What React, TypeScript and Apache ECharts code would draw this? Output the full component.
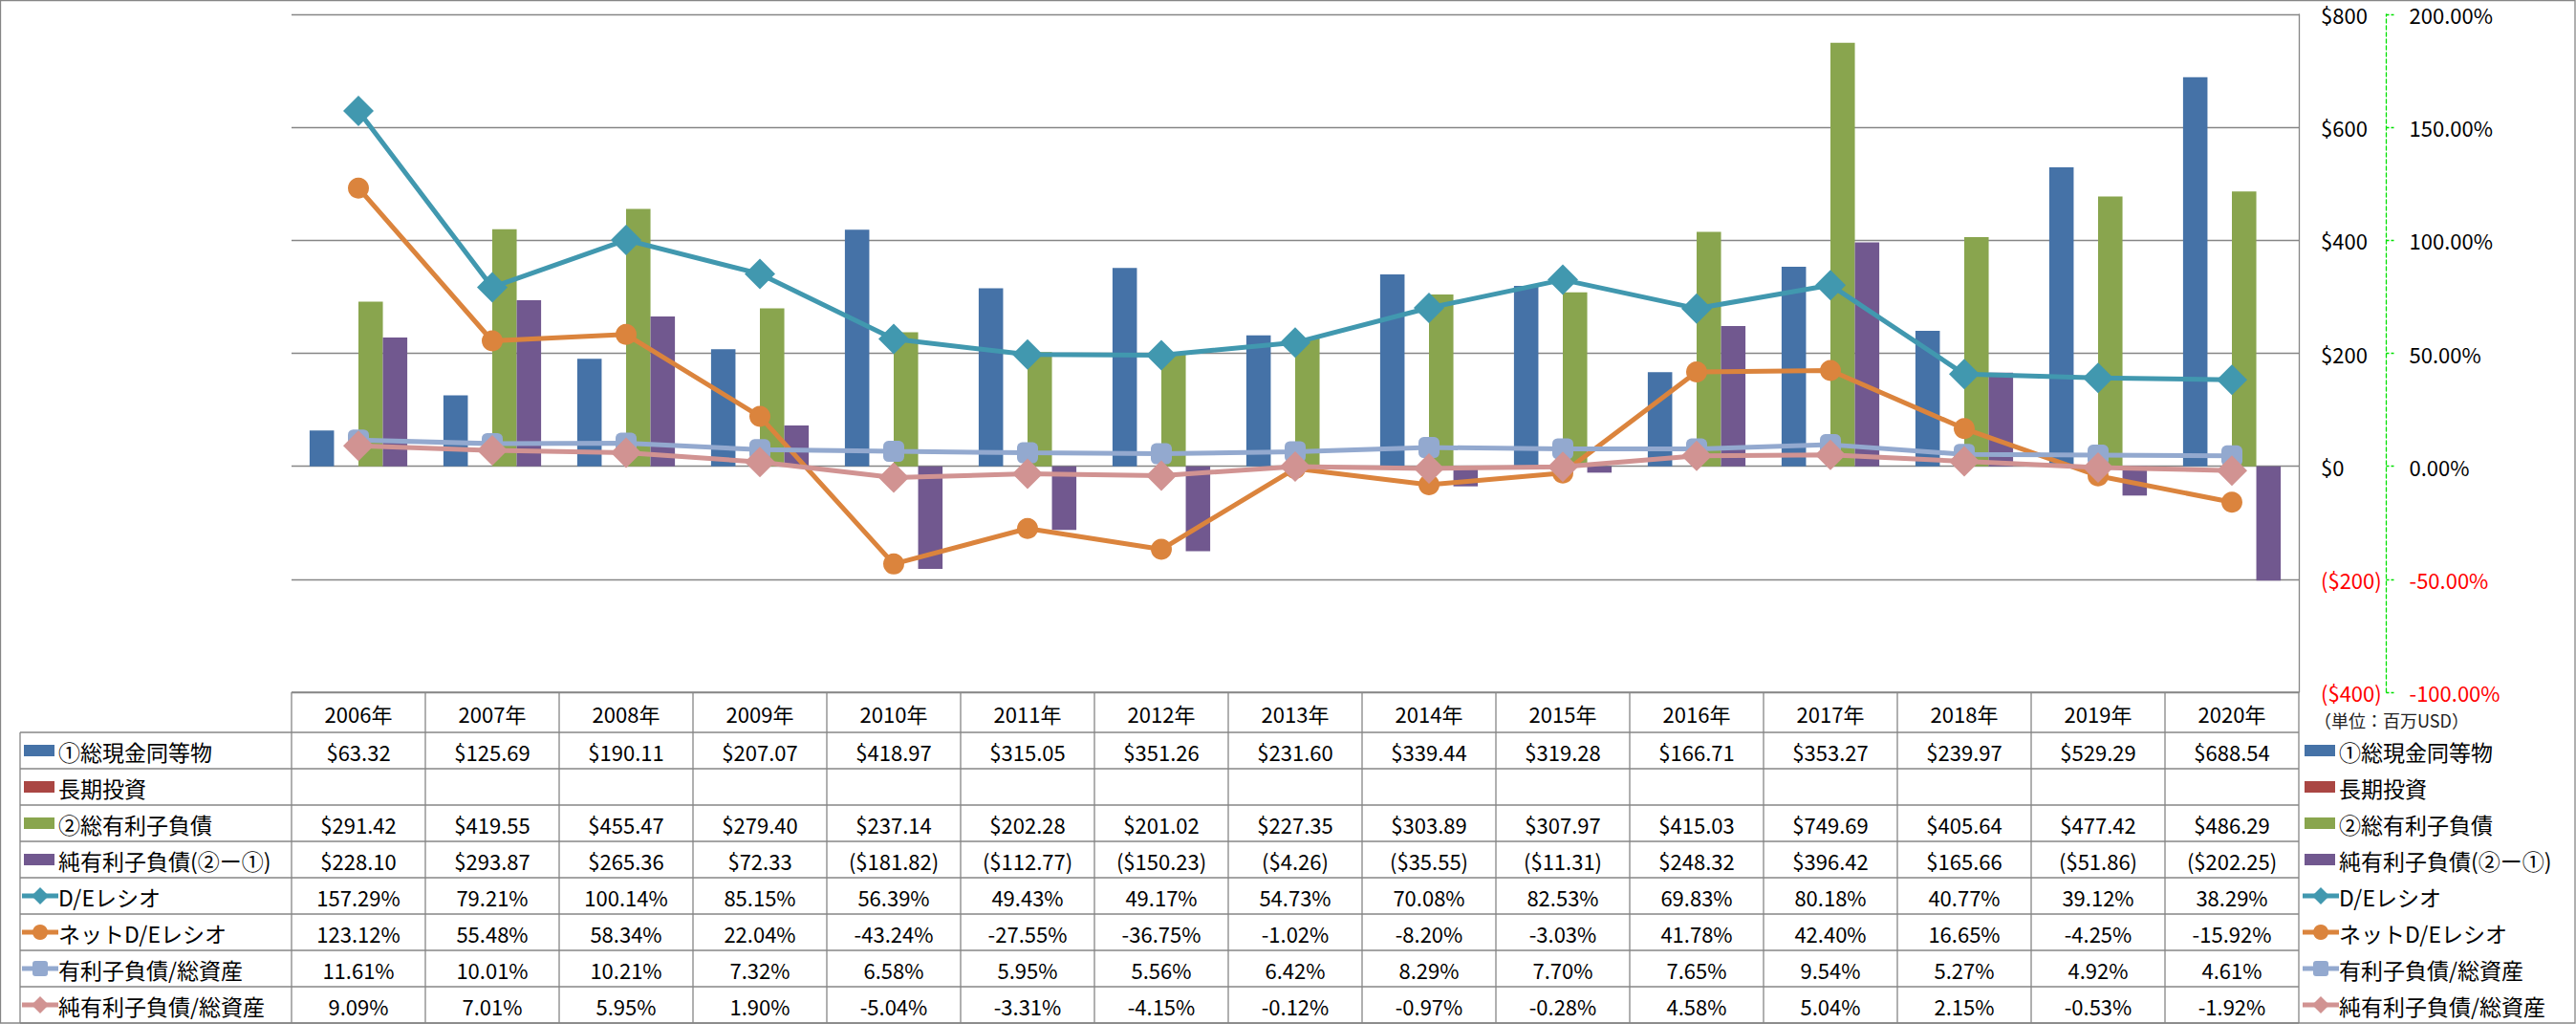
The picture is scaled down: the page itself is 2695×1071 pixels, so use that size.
import React, { useEffect, useRef } from "react";
import * as echarts from "echarts";

// ---------- data ----------
const years = ["2006年", "2007年", "2008年", "2009年", "2010年", "2011年", "2012年", "2013年", "2014年", "2015年", "2016年", "2017年", "2018年", "2019年", "2020年"];
const cash = [63.32, 125.69, 190.11, 207.07, 418.97, 315.05, 351.26, 231.6, 339.44, 319.28, 166.71, 353.27, 239.97, 529.29, 688.54];
const longInv: (number | null)[] = [null, null, null, null, null, null, null, null, null, null, null, null, null, null, null];
const debt = [291.42, 419.55, 455.47, 279.4, 237.14, 202.28, 201.02, 227.35, 303.89, 307.97, 415.03, 749.69, 405.64, 477.42, 486.29];
const netDebt = [228.1, 293.87, 265.36, 72.33, -181.82, -112.77, -150.23, -4.26, -35.55, -11.31, 248.32, 396.42, 165.66, -51.86, -202.25];
const deRatio = [157.29, 79.21, 100.14, 85.15, 56.39, 49.43, 49.17, 54.73, 70.08, 82.53, 69.83, 80.18, 40.77, 39.12, 38.29];
const netDeRatio = [123.12, 55.48, 58.34, 22.04, -43.24, -27.55, -36.75, -1.02, -8.2, -3.03, 41.78, 42.4, 16.65, -4.25, -15.92];
const debtToAssets = [11.61, 10.01, 10.21, 7.32, 6.58, 5.95, 5.56, 6.42, 8.29, 7.7, 7.65, 9.54, 5.27, 4.92, 4.61];
const netDebtToAssets = [9.09, 7.01, 5.95, 1.9, -5.04, -3.31, -4.15, -0.12, -0.97, -0.28, 4.58, 5.04, 2.15, -0.53, -1.92];

const seriesNames = ["①総現金同等物", "長期投資", "②総有利子負債", "純有利子負債(②ー①)", "D/Eレシオ", "ネットD/Eレシオ", "有利子負債/総資産", "純有利子負債/総資産"];
const unitLabel = "（単位：百万USD）";

// money axis: -400..800 step 200 ; percent axis: -100..200 step 50
const moneyAxis = { min: -400, max: 800, interval: 200 };
const pctAxis = { min: -100, max: 200, interval: 50 };

// ---------- styles ----------
const FONT = '"Noto Sans CJK JP", "Noto Sans", sans-serif';
const GRAY = "#868686";
const barColors = ["#4572A7", "#AA4643", "#89A54E", "#71588F"];
const lineColors = ["#4198AF", "#DB843D", "#93A9CF", "#D19392"];
const lineSymbols = ["diamond", "circle", "roundRect", "diamond"];
const lineSymbolSizes = [32, 22, 22, 32];

const W = 2695;
const H = 1071;
const GRID_L = 305;
const GRID_T = 15;
const GRID_W = 2100;
const GRID_H = 709;
const TABLE_X0 = 21;
const HEADER_TOP = GRID_T + GRID_H;
const ROW_TOP = 766;
const ROW_H = 38;

const fmtMoney = (v: number | null) =>
  v == null ? "" : v < 0 ? `($${(-v).toFixed(2)})` : `$${v.toFixed(2)}`;
const fmtPct = (v: number | null) => (v == null ? "" : `${v.toFixed(2)}%`);

function buildGraphics() {
  const g: any[] = [];
  const n = years.length;
  const colW = GRID_W / n;
  const colX = (k: number) => GRID_L + k * colW;
  const rowsData = [
    cash.map(fmtMoney),
    longInv.map(fmtMoney),
    debt.map(fmtMoney),
    netDebt.map(fmtMoney),
    deRatio.map(fmtPct),
    netDeRatio.map(fmtPct),
    debtToAssets.map(fmtPct),
    netDebtToAssets.map(fmtPct),
  ];
  const nRows = rowsData.length;
  const tableBottom = ROW_TOP + nRows * ROW_H;
  const lineStyle = { stroke: GRAY, lineWidth: 1.3 };

  // outer border
  g.push({ type: "rect", shape: { x: 0.5, y: 0.5, width: W - 1.5, height: H - 1.5 }, style: { fill: null, stroke: GRAY, lineWidth: 1.3 }, silent: true });

  // header top
  g.push({ type: "line", shape: { x1: colX(0), y1: HEADER_TOP, x2: colX(n), y2: HEADER_TOP }, style: lineStyle });
  // horizontal row lines
  for (let i = 0; i <= nRows; i++) {
    const y = ROW_TOP + i * ROW_H;
    g.push({ type: "line", shape: { x1: TABLE_X0, y1: y, x2: colX(n), y2: y }, style: lineStyle });
  }
  // vertical lines
  g.push({ type: "line", shape: { x1: TABLE_X0, y1: ROW_TOP, x2: TABLE_X0, y2: tableBottom }, style: lineStyle });
  for (let k = 0; k <= n; k++) {
    g.push({ type: "line", shape: { x1: colX(k), y1: HEADER_TOP, x2: colX(k), y2: tableBottom }, style: lineStyle });
  }
  // header texts
  years.forEach((yr, k) => {
    g.push({ type: "text", x: colX(k) + colW / 2, y: (HEADER_TOP + ROW_TOP) / 2 + 1, style: { text: yr, fontSize: 22, fontFamily: FONT, fill: "#000", align: "center", verticalAlign: "middle" } });
  });
  // cell texts
  rowsData.forEach((row, i) => {
    const cy = ROW_TOP + i * ROW_H + ROW_H / 2 + 1;
    row.forEach((txt, k) => {
      if (!txt) return;
      g.push({ type: "text", x: colX(k) + colW / 2, y: cy, style: { text: txt, fontSize: 22, fontFamily: FONT, fill: "#000", align: "center", verticalAlign: "middle" } });
    });
  });

  // legend keys + labels (left column and right side)
  const addKey = (i: number, kx: number, tx: number) => {
    const cy = ROW_TOP + i * ROW_H + ROW_H / 2;
    if (i < 4) {
      g.push({ type: "rect", shape: { x: kx, y: cy - 6, width: 32, height: 12 }, style: { fill: barColors[i] } });
    } else {
      const j = i - 4;
      const c = lineColors[j];
      const mx = kx + 17;
      g.push({ type: "line", shape: { x1: kx - 2, y1: cy, x2: kx + 36, y2: cy }, style: { stroke: c, lineWidth: 5 } });
      if (lineSymbols[j] === "diamond") {
        const s = 9;
        g.push({ type: "polygon", shape: { points: [[mx, cy - s], [mx + s, cy], [mx, cy + s], [mx - s, cy]] }, style: { fill: c } });
      } else if (lineSymbols[j] === "circle") {
        g.push({ type: "circle", shape: { cx: mx, cy, r: 8 }, style: { fill: c } });
      } else {
        g.push({ type: "rect", shape: { x: mx - 8, y: cy - 8, width: 16, height: 16, r: 3 }, style: { fill: c } });
      }
    }
    g.push({ type: "text", x: tx, y: cy + 1, style: { text: seriesNames[i], fontSize: 23, fontFamily: FONT, fill: "#000", align: "left", verticalAlign: "middle" } });
  };
  for (let i = 0; i < nRows; i++) {
    addKey(i, 25, 61);
    addKey(i, colX(n) + 6, colX(n) + 42);
  }
  // unit label
  g.push({ type: "text", x: colX(n) + 16, y: 753, style: { text: unitLabel, fontSize: 18, fontFamily: FONT, fill: "#222", align: "left", verticalAlign: "middle" } });
  return g;
}

function buildOption() {
  const barData = [cash, longInv, debt, netDebt];
  const lineData = [deRatio, netDeRatio, debtToAssets, netDebtToAssets];
  const series: any[] = [];
  barData.forEach((d, i) => {
    series.push({
      type: "bar",
      name: seriesNames[i],
      data: d,
      yAxisIndex: 0,
      barGap: "0%",
      barCategoryGap: "27%",
      itemStyle: { color: barColors[i] },
      z: 2,
    });
  });
  lineData.forEach((d, j) => {
    series.push({
      type: "line",
      name: seriesNames[4 + j],
      data: d,
      yAxisIndex: 1,
      symbol: lineSymbols[j],
      symbolSize: lineSymbolSizes[j],
      showAllSymbol: true,
      lineStyle: { color: lineColors[j], width: 5 },
      itemStyle: { color: lineColors[j] },
      z: 3 + j,
    });
  });

  return {
    animation: false,
    backgroundColor: "#fff",
    textStyle: { fontFamily: FONT },
    grid: { left: GRID_L, top: GRID_T, width: GRID_W, height: GRID_H, containLabel: false },
    xAxis: {
      type: "category",
      data: years,
      boundaryGap: true,
      axisLine: { show: false },
      axisTick: { show: false },
      axisLabel: { show: false },
      splitLine: { show: false },
    },
    yAxis: [
      {
        type: "value",
        position: "right",
        min: moneyAxis.min,
        max: moneyAxis.max,
        interval: moneyAxis.interval,
        axisLine: { show: true, lineStyle: { color: GRAY, width: 1.3 } },
        axisTick: { show: false },
        splitLine: { show: true, lineStyle: { color: GRAY, width: 1.3 } },
        axisLabel: {
          margin: 23,
          fontSize: 22,
          fontFamily: FONT,
          color: "#000",
          formatter: (v: number) => (v < 0 ? `{neg|($${-v})}` : `$${v}`),
          rich: { neg: { color: "#FF0000", fontSize: 22, fontFamily: FONT } },
        },
      },
      {
        type: "value",
        position: "right",
        offset: 91.5,
        min: pctAxis.min,
        max: pctAxis.max,
        interval: pctAxis.interval,
        axisLine: { show: true, lineStyle: { color: "#00E000", width: 1.3, type: [4, 3] } },
        axisTick: { show: true, length: 8, lineStyle: { color: "#00E000", width: 1.3, type: [3, 2] } },
        splitLine: { show: false },
        axisLabel: {
          margin: 24,
          fontSize: 22,
          fontFamily: FONT,
          color: "#000",
          formatter: (v: number) => (v < 0 ? `{neg|${v.toFixed(2)}%}` : `${v.toFixed(2)}%`),
          rich: { neg: { color: "#FF0000", fontSize: 22, fontFamily: FONT } },
        },
      },
    ],
    series,
    graphic: buildGraphics(),
  };
}

export default function App() {
  const ref = useRef<HTMLDivElement>(null);
  useEffect(() => {
    if (!ref.current) return;
    const chart = echarts.init(ref.current, undefined, { renderer: "svg" });
    chart.setOption(buildOption() as any);
    return () => chart.dispose();
  }, []);
  return (
    <div
      ref={ref}
      style={{ position: "absolute", left: 0, top: 0, width: W, height: H, background: "#fff" }}
    />
  );
}
